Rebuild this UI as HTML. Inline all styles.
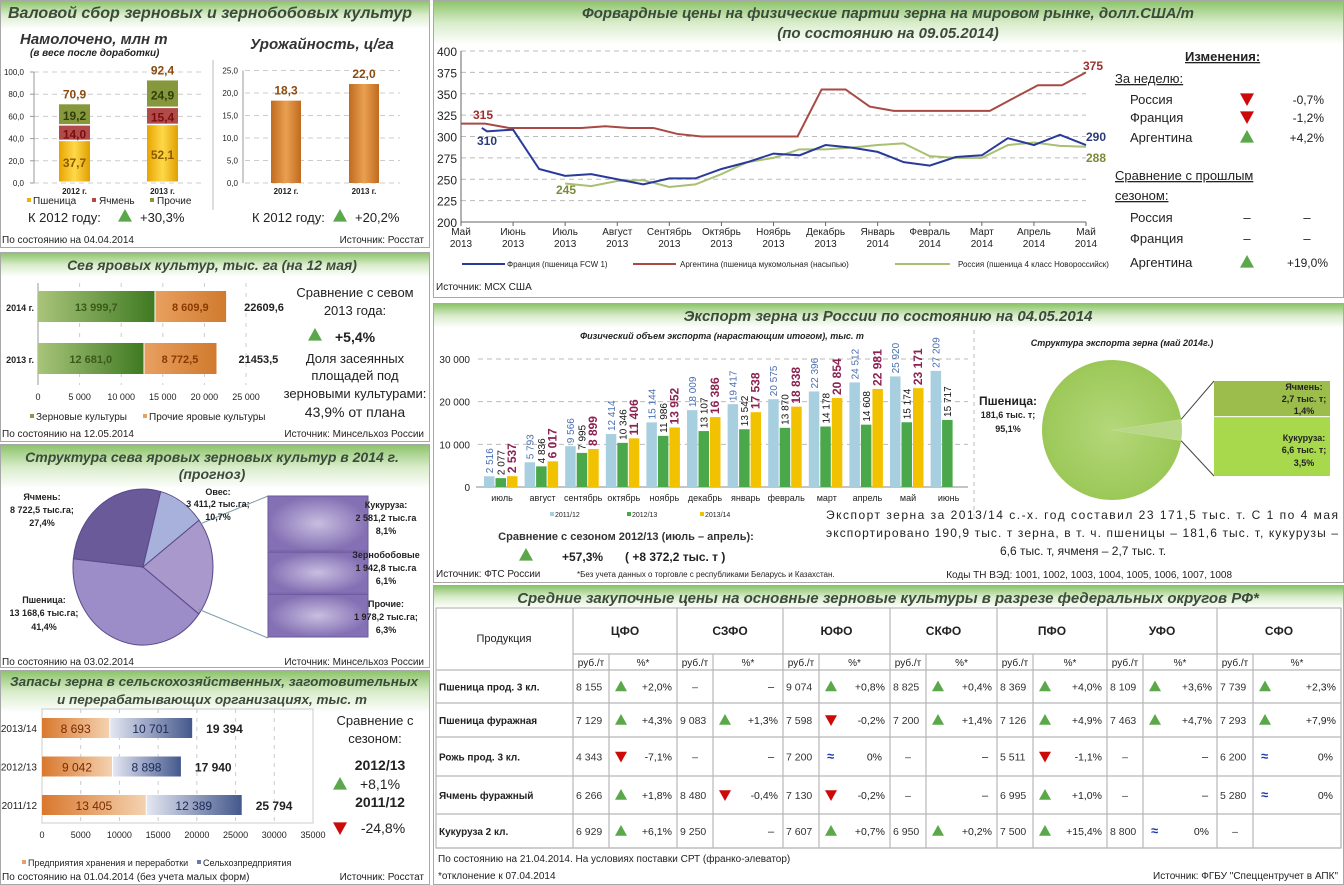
<!DOCTYPE html>
<html><head><meta charset="utf-8"><style>
body{margin:0;background:#fff}
svg{display:block;font-family:"Liberation Sans","Noto Sans CJK SC",sans-serif}
</style></head><body>
<svg id="s" width="1344" height="885" viewBox="0 0 1344 885" xmlns="http://www.w3.org/2000/svg">
<defs>
<linearGradient id="hg" x1="0" y1="0" x2="0" y2="1"><stop offset="0" stop-color="#8cc46a"/><stop offset="0.5" stop-color="#d9eccb"/><stop offset="1" stop-color="#ffffff"/></linearGradient>
<linearGradient id="gg" x1="0" x2="1"><stop offset="0" stop-color="#a9c47a"/><stop offset="1" stop-color="#3f7a22"/></linearGradient>
<linearGradient id="og" x1="0" x2="1"><stop offset="0" stop-color="#e8a060"/><stop offset="1" stop-color="#d07a2e"/></linearGradient>
<linearGradient id="og2" x1="0" x2="1"><stop offset="0" stop-color="#d9782e"/><stop offset="1" stop-color="#f4d2b0"/></linearGradient>
<linearGradient id="bg2" x1="0" x2="1"><stop offset="0" stop-color="#e4e6f2"/><stop offset="1" stop-color="#44588c"/></linearGradient>
<linearGradient id="yb" x1="0" x2="1"><stop offset="0" stop-color="#e8a400"/><stop offset="0.5" stop-color="#ffd84a"/><stop offset="1" stop-color="#e0a000"/></linearGradient>
<linearGradient id="cb" x1="0" x2="1"><stop offset="0" stop-color="#c06a20"/><stop offset="0.5" stop-color="#eaa050"/><stop offset="1" stop-color="#c06a20"/></linearGradient>
<radialGradient id="vg"><stop offset="0" stop-color="#c8bee0"/><stop offset="1" stop-color="#8470b4"/></radialGradient>
<radialGradient id="gp"><stop offset="0" stop-color="#b4d87a"/><stop offset="1" stop-color="#9cc858"/></radialGradient>
</defs>
<g id="panels"></g>
<g id="content"></g>
</svg>
<script>
const NS='http://www.w3.org/2000/svg';
const S=document.getElementById('content');
function mk(tag,attrs,txt){const e=document.createElementNS(NS,tag);for(const k in attrs)e.setAttribute(k,attrs[k]);if(txt!==undefined)e.textContent=txt;S.appendChild(e);return e;}
function T(x,y,s,o){o=o||{};const e=mk('text',Object.assign({x:x,y:y,'font-size':o.fs||12,fill:o.fill||'#222','text-anchor':o.a||'start','font-weight':o.b?'bold':'normal','font-style':o.i?'italic':'normal'},o.extra||{}),s);return e;}
function tri(x,y,up,sz){sz=sz||7;const p=up?`${x},${y-sz} ${x-sz},${y+sz*0.8} ${x+sz},${y+sz*0.8}`:`${x},${y+sz} ${x-sz},${y-sz*0.8} ${x+sz},${y-sz*0.8}`;return mk('polygon',{points:p,fill:up?'#5aa84a':'#cc0a0a'});}

/* ---- panels ---- */
const panels=[[0,0,430,248,28,'harvest-panel'],[0,252,430,190,24,'sowing-panel'],[0,444,430,224,44,'sow-structure-panel'],[0,670,430,215,42,'grain-stocks-panel'],[433,0,911,298,44,'forward-prices-panel'],[433,303,911,280,24,'export-panel'],[433,585,911,300,22,'purchase-prices-panel']];
for(const p of panels){
 const r=mk('rect',{x:p[0]+0.5,y:p[1]+0.5,width:p[2]-1,height:p[3]-1,fill:'#fff',stroke:'#a8a8a8'});
 
 
 const h=mk('rect',{x:p[0]+1,y:p[1]+1,width:p[2]-2,height:p[4],fill:'url(#hg)'});
 
 
}
function H(x,y,s,fs,name,len){const o={fs:fs||15,b:1,i:1,a:'middle',fill:'#3c4a3c'};if(len)o.extra={textLength:len,lengthAdjust:'spacingAndGlyphs'};const e=T(x,y,s,o);return e;}
H(210,18,'Валовой сбор зерновых и зернобобовых культур',16,'harvest-title');
H(212,270,'Сев яровых культур, тыс. га (на 12 мая)',14,'sowing-title');
H(212,462,'Структура сева яровых зерновых культур в 2014 г.',14,'structure-title');
H(212,479,'(прогноз)',14,'structure-subtitle');
H(214,686,'Запасы зерна в  сельскохозяйственных, заготовительных',13,'stocks-title',408);
H(212,704,'и перерабатывающих организациях, тыс. т',13,'stocks-subtitle',310);
H(888,18,'Форвардные цены на физические партии зерна на мировом рынке, долл.США/т',15,'forward-title');
H(888,38,'(по состоянию на 09.05.2014)',15,'forward-subtitle');
H(888,321,'Экспорт зерна из России по состоянию на 04.05.2014',15,'export-title');
H(888,603,'Средние закупочные цены на основные зерновые культуры в разрезе федеральных округов РФ*',15,'prices-title');

/* ---- harvest stacked bars ---- */
const harvYears=['2012 г.','2013 г.'];
const harvWheat=[37.7,52.1];
const harvBarley=[14.0,15.4];
const harvOther=[19.2,24.9];
const harvTotal=[70.9,92.4];
const hY=v=>183-v*1.11;
T(20,44,'Намолочено, млн т',{fs:15,b:1,i:1,fill:'#333'});
T(30,56,'(в весе после доработки)',{fs:10,b:1,i:1});
for(let v=0;v<=100;v+=20){const y=hY(v);mk('line',{x1:34,x2:205,y1:y,y2:y,stroke:'#ccc','stroke-dasharray':'5,4'});T(24,y+3,v.toFixed(1).replace('.',','),{fs:8,a:'end'});mk('line',{x1:30,x2:34,y1:y,y2:y,stroke:'#999'});}
mk('line',{x1:34,x2:34,y1:hY(100),y2:183,stroke:'#999'});
harvYears.forEach((yr,i)=>{const x=59+i*88,w=31;let b=0;
 [[harvWheat,'url(#yb)','#8a5a00'],[harvBarley,'#b24a4a','#7a0f0f'],[harvOther,'#87983c','#2f3f0c']].forEach((s,k)=>{const v=s[0][i];const r=mk('rect',{x:x,y:hY(b+v),width:w,height:v*1.11-1.5,fill:s[1]});
  
  
  T(x+w/2,hY(b+v/2)+5,v.toFixed(1).replace('.',','),{fs:12,b:1,a:'middle',fill:s[2]});b+=v;});
 T(x+w/2,hY(harvTotal[i])-6,harvTotal[i].toFixed(1).replace('.',','),{fs:12,b:1,a:'middle',fill:'#8a4a10'});
 T(x+w/2,194,yr,{fs:8,b:1,a:'middle'});});
mk('rect',{x:27,y:198,width:4,height:4,fill:'#f0b400'});T(33,204,'Пшеница',{fs:10});
mk('rect',{x:92,y:198,width:4,height:4,fill:'#b24a4a'});T(99,204,'Ячмень',{fs:10});
mk('rect',{x:150,y:198,width:4,height:4,fill:'#87983c'});T(157,204,'Прочие',{fs:10});
T(28,222,'К 2012 году:',{fs:13});tri(125,216,1);T(140,222,'+30,3%',{fs:13});
mk('line',{x1:213,x2:213,y1:60,y2:210,stroke:'#bbb'});
/* yield */
const yieldVals=[18.3,22.0];
const yY=v=>183-v*4.5;
T(250,49,'Урожайность, ц/га',{fs:15,b:1,i:1,fill:'#333'});
for(let v=0;v<=25;v+=5){const y=yY(v);mk('line',{x1:245,x2:400,y1:y,y2:y,stroke:'#ccc','stroke-dasharray':'5,4'});T(238,y+3,v.toFixed(1).replace('.',','),{fs:8,a:'end'});}
mk('line',{x1:243,x2:243,y1:yY(25),y2:183,stroke:'#999'});
yieldVals.forEach((v,i)=>{const x=271+i*78;const r=mk('rect',{x:x,y:yY(v),width:30,height:v*4.5,fill:'url(#cb)'});
 
 
 T(x+15,yY(v)-6,v.toFixed(1).replace('.',','),{fs:12,b:1,a:'middle',fill:'#8a4a10'});T(x+15,194,harvYears[i],{fs:8,b:1,a:'middle'});});
T(252,222,'К 2012 году:',{fs:13});tri(340,216,1);T(355,222,'+20,2%',{fs:13});
T(2,243,'По состоянию на 04.04.2014',{fs:10});T(424,243,'Источник: Росстат',{fs:10,a:'end'});

/* ---- sowing ---- */
const sowYears=['2014 г.','2013 г.'];
const sowGrain=[13999.7,12681.0];
const sowOther=[8609.9,8772.5];
const sowTotal=['22609,6','21453,5'];
const sX=v=>38+v*208/25000;
for(let v=0;v<=25000;v+=5000){const x=sX(v);mk('line',{x1:x,x2:x,y1:283,y2:385,stroke:'#ccc','stroke-dasharray':'4,6'});T(x,400,v?v.toLocaleString('ru-RU').replace(/\u00a0/g,' '):'0',{fs:9,a:'middle'});}
mk('line',{x1:38,x2:38,y1:283,y2:385,stroke:'#999'});
sowYears.forEach((yr,i)=>{const y=291+i*52,h=31;
 const a=mk('rect',{x:sX(0),y:y,width:sX(sowGrain[i])-38,height:h,fill:'url(#gg)'});
 const b=mk('rect',{x:sX(sowGrain[i])+1,y:y,width:sX(sowGrain[i]+sowOther[i])-sX(sowGrain[i])-1,height:h,fill:'url(#og)'});
 T(34,y+20,yr,{fs:9,b:1,a:'end'});
 T((38+sX(sowGrain[i]))/2,y+20,sowGrain[i].toLocaleString('ru-RU',{minimumFractionDigits:1}).replace(/\u00a0/g,' '),{fs:11,b:1,a:'middle',fill:'#3a5a1a'});
 T((sX(sowGrain[i])+sX(sowGrain[i]+sowOther[i]))/2,y+20,sowOther[i].toLocaleString('ru-RU',{minimumFractionDigits:1}).replace(/\u00a0/g,' '),{fs:11,b:1,a:'middle',fill:'#8a3a00'});
 T(sX(sowGrain[i]+sowOther[i])+18+(i?4:0),y+20,sowTotal[i],{fs:11,b:1});});
mk('rect',{x:30,y:414,width:4,height:4,fill:'#7aa050'});T(36,420,'Зерновые культуры',{fs:10});
mk('rect',{x:143,y:414,width:4,height:4,fill:'#e8a060'});T(149,420,'Прочие яровые культуры',{fs:10});
T(355,297,'Сравнение с севом',{fs:13,a:'middle'});T(355,315,'2013 года:',{fs:13,a:'middle'});
tri(315,335,1);T(335,342,'+5,4%',{fs:14,b:1});
T(355,363,'Доля засеянных',{fs:13,a:'middle'});T(355,380,'площадей под',{fs:13,a:'middle'});T(355,398,'зерновыми культурами:',{fs:13,a:'middle'});
T(355,417,'43,9% от плана',{fs:14,a:'middle'});
T(2,437,'По состоянию на 12.05.2014',{fs:10});T(424,437,'Источник: Минсельхоз России',{fs:10,a:'end'});

/* ---- sow structure pie ---- */
const pieLabels=['Пшеница','Ячмень','Овес','Прочие яровые'];
const pieShares=[41.4,27.4,10.7,20.5];
const pieFill=['#9c8cc8','#6a5a9a','#a8b0dc','#a898cc'];
let ang=37;const cx=143,cy=567,rx=70,ry=78;
pieShares.forEach((s,i)=>{const a0=ang*Math.PI/180,a1=(ang+s*3.6)*Math.PI/180;ang+=s*3.6;
 const p=mk('path',{d:`M${cx},${cy} L${cx+rx*Math.cos(a0)},${cy+ry*Math.sin(a0)} A${rx},${ry} 0 ${s>50?1:0} 1 ${cx+rx*Math.cos(a1)},${cy+ry*Math.sin(a1)} Z`,fill:pieFill[i],stroke:'#5a4a8a','stroke-width':1});
 
 });
mk('line',{x1:200,x2:268,y1:524,y2:496,stroke:'#7a9aaa'});mk('line',{x1:198,x2:268,y1:609,y2:638,stroke:'#7a9aaa'});
const subShares=[8.1,6.1,6.3];
let sy=496;subShares.forEach((s,i)=>{const h=142*s/20.5;const r=mk('rect',{x:268,y:sy,width:100,height:h-1,fill:'url(#vg)',stroke:'#6a5a9a'});sy+=h;});
[['Ячмень:',500],['8 722,5 тыс.га;',513],['27,4%',526]].forEach(t=>T(42,t[1],t[0],{fs:9,b:1,a:'middle'}));
[['Пшеница:',603],['13 168,6 тыс.га;',616],['41,4%',630]].forEach(t=>T(44,t[1],t[0],{fs:9,b:1,a:'middle'}));
[['Овес:',495],['3 411,2 тыс.га;',507],['10,7%',520]].forEach(t=>T(218,t[1],t[0],{fs:9,b:1,a:'middle'}));
[['Кукуруза:',508],['2 581,2 тыс.га',521],['8,1%',534],['Зернобобовые',558],['1 942,8 тыс.га',571],['6,1%',584],['Прочие:',607],['1 978,2 тыс.га;',620],['6,3%',633]].forEach(t=>T(386,t[1],t[0],{fs:9,b:1,a:'middle'}));
T(2,665,'По состоянию на 03.02.2014',{fs:10});T(424,665,'Источник: Минсельхоз России',{fs:10,a:'end'});

/* ---- stocks ---- */
const stkYears=['2013/14','2012/13','2011/12'];
const stkProc=[8693,9042,13405];
const stkFarm=[10701,8898,12389];
const stkTotal=['19 394','17 940','25 794'];
const kX=v=>42+v*271/35000;
mk('rect',{x:42,y:709,width:271,height:114,fill:'none',stroke:'#ccc'});
for(let v=0;v<=35000;v+=5000){const x=kX(v);if(v)mk('line',{x1:x,x2:x,y1:709,y2:823,stroke:'#ccc','stroke-dasharray':'4,5'});T(x,838,String(v),{fs:9,a:'middle'});}
stkYears.forEach((yr,i)=>{const y=718+i*38.5,h=20;
 const a=mk('rect',{x:kX(0),y:y,width:kX(stkProc[i])-42,height:h,fill:'url(#og2)'});
 const b=mk('rect',{x:kX(stkProc[i])+1,y:y,width:kX(stkProc[i]+stkFarm[i])-kX(stkProc[i])-1,height:h,fill:'url(#bg2)'});
 T(37,y+14,yr,{fs:10,a:'end'});
 T((42+kX(stkProc[i]))/2,y+15,stkProc[i].toLocaleString('ru-RU').replace(/\u00a0/g,' '),{fs:12,a:'middle',fill:'#7a2a00'});
 T((kX(stkProc[i])+kX(stkProc[i]+stkFarm[i]))/2,y+15,stkFarm[i].toLocaleString('ru-RU').replace(/\u00a0/g,' '),{fs:12,a:'middle',fill:'#1a2a5a'});
 T(kX(stkProc[i]+stkFarm[i])+14,y+15,stkTotal[i],{fs:12,b:1});});
mk('rect',{x:22,y:860,width:4,height:4,fill:'#e8a070'});T(28,866,'Предприятия хранения и переработки',{fs:9});
mk('rect',{x:197,y:860,width:4,height:4,fill:'#6a7aaa'});T(203,866,'Сельхозпредприятия',{fs:9});
T(2,880,'По состоянию на 01.04.2014 (без учета малых форм)',{fs:10});T(424,880,'Источник: Росстат',{fs:10,a:'end'});
T(375,725,'Сравнение с',{fs:13,a:'middle'});T(375,743,'сезоном:',{fs:13,a:'middle'});
T(380,770,'2012/13',{fs:14,b:1,a:'middle'});tri(340,784,1);T(380,789,'+8,1%',{fs:14,a:'middle'});
T(380,807,'2011/12',{fs:14,b:1,a:'middle'});tri(340,828,0);T(383,833,'-24,8%',{fs:14,a:'middle'});

/* ---- forward prices ---- */
const fpMonths=['Май','Июнь','Июль','Август','Сентябрь','Октябрь','Ноябрь','Декабрь','Январь','Февраль','Март','Апрель','Май'];
const fpYears=['2013','2013','2013','2013','2013','2013','2013','2013','2014','2014','2014','2014','2014'];
const fpFrance=[310,306,308,262,254,256,250,244,251,251,262,270,280,278,290,287,282,270,266,276,278,298,290,302,290];
const fpArgentina=[315,315,310,310,310,310,312,310,310,303,300,300,300,300,300,355,355,335,330,330,330,330,330,345,360,360,375];
const fpRussia=[null,null,null,null,245,242,248,249,241,244,256,270,275,285,285,287,290,292,277,275,275,290,293,289,288];
const fpTicks=[200,225,250,275,300,325,350,375,400];
const fX=t=>461+t*(625/24);
const fY=v=>222-(v-200)*171/200;
fpTicks.forEach(v=>{if(v>200)mk('line',{x1:461,x2:1086,y1:fY(v),y2:fY(v),stroke:'#bbb','stroke-dasharray':'5,4'});T(457,fY(v)+5,String(v),{fs:12,a:'end'});});
mk('line',{x1:461,x2:461,y1:fY(400),y2:222,stroke:'#666'});mk('line',{x1:461,x2:1086,y1:222,y2:222,stroke:'#666'});
fpMonths.forEach((m,i)=>{const x=fX(i*2);mk('line',{x1:x,x2:x,y1:222,y2:226,stroke:'#666'});T(x,235,m,{fs:10,a:'middle'});T(x,247,fpYears[i],{fs:10,a:'middle'});});
function line(arr,xf,col,name){let d='';arr.forEach((v,i)=>{if(v==null)return;d+=(d?'L':'M')+xf(i)+','+fY(v);});const p=mk('path',{d:d,fill:'none',stroke:col,'stroke-width':2});}
line(fpArgentina,i=>fX(i*24/26),'#a84a44','argentina-line');
line(fpRussia,fX,'#a8c070','russia-line');
line(fpFrance,i=>fX(i===0?0.8:i),'#2a3a9a','france-line');
T(473,119,'315',{fs:12,b:1,fill:'#a03030'});T(477,145,'310',{fs:12,b:1,fill:'#2a3a7a'});T(556,194,'245',{fs:12,b:1,fill:'#7a8a3a'});
T(1083,70,'375',{fs:12,b:1,fill:'#a03030'});T(1086,141,'290',{fs:12,b:1,fill:'#2a3a7a'});T(1086,162,'288',{fs:12,b:1,fill:'#7a8a3a'});
mk('line',{x1:462,x2:505,y1:264,y2:264,stroke:'#2a3a9a','stroke-width':2});T(507,267,'Франция (пшеница FCW 1)',{fs:8});
mk('line',{x1:633,x2:676,y1:264,y2:264,stroke:'#a84a44','stroke-width':2});T(680,267,'Аргентина (пшеница мукомольная (насыпью)',{fs:8});
mk('line',{x1:895,x2:950,y1:264,y2:264,stroke:'#a8c070','stroke-width':2});T(958,267,'Россия (пшеница 4 класс Новороссийск)',{fs:8});
T(436,290,'Источник: МСХ США',{fs:10});
T(1185,61,'Изменения:',{fs:13,b:1,extra:{'text-decoration':'underline'}});
T(1115,83,'За неделю:',{fs:13,extra:{'text-decoration':'underline'}});
[['Россия',0,'-0,7%',104],['Франция',0,'-1,2%',122],['Аргентина',1,'+4,2%',142]].forEach(r=>{T(1130,r[3],r[0],{fs:13});tri(1247,r[3]-5,r[1]);T(1324,r[3],r[2],{fs:12,a:'end'});});
T(1115,180,'Сравнение с прошлым',{fs:13,extra:{'text-decoration':'underline'}});T(1115,200,'сезоном:',{fs:13,extra:{'text-decoration':'underline'}});
[['Россия',222],['Франция',243]].forEach(r=>{T(1130,r[1],r[0],{fs:13});T(1247,r[1],'–',{fs:13,a:'middle'});T(1307,r[1],'–',{fs:13,a:'middle'});});
T(1130,267,'Аргентина',{fs:13});tri(1247,262,1);T(1328,267,'+19,0%',{fs:12,a:'end'});

/* ---- export bars ---- */
const exMonths=['июль','август','сентябрь','октябрь','ноябрь','декабрь','январь','февраль','март','апрель','май','июнь'];
const ex1112=[2516,5793,9566,12414,15144,18009,19417,20575,22396,24512,25920,27209];
const ex1213=[2077,4836,7995,10346,11986,13107,13542,13870,14178,14608,15174,15717];
const ex1314=[2537,6017,8899,11406,13952,16386,17538,18838,20854,22981,23171,null];
const exTicks=[0,10000,20000,30000];
const eY=v=>487-v*128/30000;
const eX=i=>484+i*40.6;
T(722,339,'Физический объем экспорта (нарастающим итогом), тыс. т',{fs:9,b:1,i:1,a:'middle'});
exTicks.forEach(v=>{if(v)mk('line',{x1:478,x2:968,y1:eY(v),y2:eY(v),stroke:'#bbb','stroke-dasharray':'5,4'});T(470,eY(v)+4,v?v.toLocaleString('ru-RU').replace(/\u00a0/g,' '):'0',{fs:10,a:'end'});});
mk('line',{x1:476,x2:968,y1:487,y2:487,stroke:'#888'});
const fmt=v=>v.toLocaleString('ru-RU').replace(/\u00a0/g,' ');
exMonths.forEach((m,i)=>{T(eX(i)+18,501,m,{fs:9,a:'middle'});
 [[ex1112,'#a8cfe0','#4a6fb0',0],[ex1213,'#4aa84a','#111',1],[ex1314,'#f2c200','#8b2252',2]].forEach(s=>{const v=s[0][i];if(v==null)return;const x=eX(i)+s[3]*11.5;
  const r=mk('rect',{x:x,y:eY(v),width:10.5,height:487-eY(v),fill:s[1]});
  const ty=eY(v)-3;T(x+9,ty,fmt(v),{fs:s[3]==2?12:10,b:s[3]==2,fill:s[2],extra:{transform:`rotate(-90 ${x+9} ${ty})`}});});});
mk('rect',{x:550,y:512,width:4,height:4,fill:'#a8cfe0'});T(555,517,'2011/12',{fs:7});
mk('rect',{x:627,y:512,width:4,height:4,fill:'#4aa84a'});T(632,517,'2012/13',{fs:7});
mk('rect',{x:700,y:512,width:4,height:4,fill:'#f2c200'});T(705,517,'2013/14',{fs:7});
mk('line',{x1:974,x2:974,y1:330,y2:520,stroke:'#bbb','stroke-dasharray':'4,4'});
T(626,540,'Сравнение с сезоном 2012/13 (июль – апрель):',{fs:11,b:1,a:'middle',fill:'#333'});
tri(526,555,1);T(562,561,'+57,3%',{fs:12,b:1});T(625,561,'(   +8 372,2 тыс. т   )',{fs:12,b:1});
T(436,577,'Источник: ФТС России',{fs:10});T(577,577,'*Без учета данных о торговле с республиками Беларусь и Казахстан.',{fs:8});
T(826,519,'Экспорт зерна за 2013/14 с.-х. год составил 23 171,5 тыс. т. С 1 по 4 мая',{fs:12,extra:{textLength:512}});
T(826,537,'экспортировано 190,9 тыс. т зерна, в т. ч. пшеницы – 181,6 тыс. т, кукурузы –',{fs:12,extra:{textLength:512}});
T(1000,555,'6,6 тыс. т, ячменя – 2,7 тыс. т.',{fs:12});
T(1232,578,'Коды ТН ВЭД: 1001, 1002, 1003, 1004, 1005, 1006, 1007, 1008',{fs:10,a:'end'});
/* export pie */
const expShares=[95.1,1.4,3.5];
T(1122,346,'Структура экспорта зерна (май 2014г.)',{fs:9,b:1,i:1,a:'middle'});
{const pcx=1112,pcy=430,pr=70;
 const sm=expShares[1]+expShares[2];const a0=(-sm*3.6/2)*Math.PI/180,a1=(sm*3.6/2)*Math.PI/180;
 const p=mk('path',{d:`M${pcx},${pcy} L${pcx+pr*Math.cos(a1)},${pcy+pr*Math.sin(a1)} A${pr},${pr} 0 1 1 ${pcx+pr*Math.cos(a0)},${pcy+pr*Math.sin(a0)} Z`,fill:'url(#gp)'});
 
 const q=mk('path',{d:`M${pcx},${pcy} L${pcx+pr*Math.cos(a0)},${pcy+pr*Math.sin(a0)} A${pr},${pr} 0 0 1 ${pcx+pr*Math.cos(a1)},${pcy+pr*Math.sin(a1)} Z`,fill:'#b8d888'});
 
 mk('line',{x1:pcx+pr*Math.cos(a0),y1:pcy+pr*Math.sin(a0),x2:1214,y2:381,stroke:'#444'});
 mk('line',{x1:pcx+pr*Math.cos(a1),y1:pcy+pr*Math.sin(a1),x2:1214,y2:476,stroke:'#444'});
 const h1=95*expShares[1]/sm;
 const r1=mk('rect',{x:1214,y:381,width:116,height:h1+8,fill:'#9cbc4c'});
 const r2=mk('rect',{x:1214,y:381+h1+9,width:116,height:95-h1-9,fill:'#a8d84c'});}
[['Пшеница:',405,12],['181,6 тыс. т;',418,9],['95,1%',432,9]].forEach(t=>T(1008,t[1],t[0],{fs:t[2],b:1,a:'middle'}));
[['Ячмень:',390],['2,7 тыс. т;',402],['1,4%',414]].forEach(t=>T(1304,t[1],t[0],{fs:9,b:1,a:'middle'}));
[['Кукуруза:',441],['6,6 тыс. т;',453],['3,5%',466]].forEach(t=>T(1304,t[1],t[0],{fs:9,b:1,a:'middle'}));

/* ---- purchase price table ---- */
const districts=['ЦФО','СЗФО','ЮФО','СКФО','ПФО','УФО','СФО'];
const products=['Пшеница прод. 3 кл.','Пшеница фуражная','Рожь прод. 3 кл.','Ячмень фуражный','Кукуруза 2 кл.'];
const priceRub=[['8 155','–','9 074','8 825','8 369','8 109','7 739'],['7 129','9 083','7 598','7 200','7 126','7 463','7 293'],['4 343','–','7 200','–','5 511','–','6 200'],['6 266','8 480','7 130','–','6 995','–','5 280'],['6 929','9 250','7 607','6 950','7 500','8 800','–']];
const pricePct=[['+2,0%','–','+0,8%','+0,4%','+4,0%','+3,6%','+2,3%'],['+4,3%','+1,3%','-0,2%','+1,4%','+4,9%','+4,7%','+7,9%'],['-7,1%','–','0%','–','-1,1%','–','0%'],['+1,8%','-0,4%','-0,2%','–','+1,0%','–','0%'],['+6,1%','–','+0,7%','+0,2%','+15,4%','0%','']];
const colX=[573,677,783,890,997,1107,1217,1341];
const rowY=[670,703,737,776,814,848];
const tl=(x1,y1,x2,y2)=>mk('line',{x1:x1,y1:y1,x2:x2,y2:y2,stroke:'#b8b8b8','stroke-width':1.2});
mk('rect',{x:436,y:608,width:905,height:240,fill:'none',stroke:'#b8b8b8','stroke-width':1.2});
tl(573,654,1341,654);rowY.forEach(y=>tl(436,y,1341,y));
colX.forEach((x,i)=>{tl(x,608,x,848);if(i<7)tl(x+36,654,x+36,848);});
T(504,642,'Продукция',{fs:11,a:'middle'});
districts.forEach((d,j)=>{const x=colX[j],w=colX[j+1]-x;T(x+w/2,635,d,{fs:12,b:1,a:'middle'});T(x+18,666,'руб./т',{fs:10,a:'middle'});T(x+36+(w-36)/2,666,'%*',{fs:10,a:'middle'});});
products.forEach((p,i)=>{const y=(rowY[i]+rowY[i+1])/2+4;const t=T(439,y,p,{fs:10,b:1});
 districts.forEach((d,j)=>{const x=colX[j],w=colX[j+1]-x;const rub=priceRub[i][j],pc=pricePct[i][j];
  T(rub==='–'?x+18:x+3,y,rub,{fs:10.5,a:rub==='–'?'middle':'start',fill:'#333'});
  if(pc==='–'){T(x+w-12,y,'–',{fs:11,a:'middle'});return;}
  if(pc==='')return;
  if(pc==='0%'){T(x+44,y,'≈',{fs:13,b:1,fill:'#1a3ab0'});T(x+w-8,y,'0%',{fs:10.5,a:'end'});return;}
  tri(x+48,y-4,pc[0]==='+',6);T(x+w-5,y,pc,{fs:10.5,a:'end'});});});
T(438,862,'По состоянию на 21.04.2014. На условиях поставки СРТ (франко-элеватор)',{fs:10});
T(438,879,'*отклонение к 07.04.2014',{fs:10});
T(1338,879,'Источник: ФГБУ "Спеццентручет в АПК"',{fs:10,a:'end'});
</script>
</body></html>
